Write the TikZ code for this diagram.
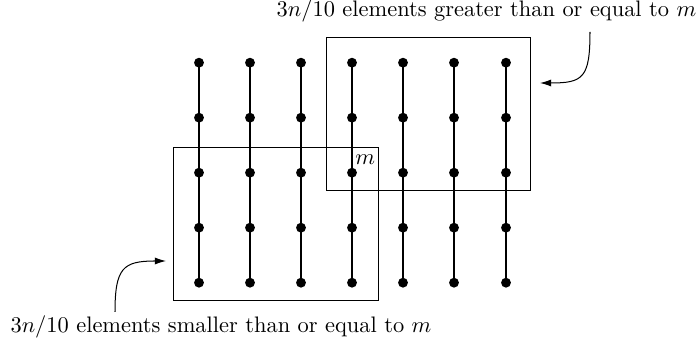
\documentclass[tikz,border=0pt]{standalone}
\usetikzlibrary{arrows.meta,fit}
\begin{document}
\begin{tikzpicture}[x=0.446pt,y=-0.446pt,
  dot/.style={circle,fill=black,inner sep=0pt,minimum size=4.4pt},
  colline/.style={line width=0.9pt},
  boxstyle/.style={draw,line width=0.5pt,inner sep=0pt},
  callout/.style={line width=0.45pt,-{Latex[length=5pt,width=3.2pt]}},
  lbl/.style={inner sep=0pt,anchor=base}]
\useasboundingbox (0,0) rectangle (699,345);
% dots
\foreach \c/\x in {1/199,2/250,3/301,4/352,5/403,6/454,7/506}{
  \foreach \r in {1,...,5}{
    \node[dot] (d\c-\r) at (\x,{62.7+55*(\r-1)}) {};
  }
  \draw[colline] (d\c-1.center) -- (d\c-5.center);
}
% boxes
\coordinate (lbtl) at (173.5,147.5);
\coordinate (lbbr) at (378.5,300.5);
\node[boxstyle,fit=(lbtl)(lbbr)] (lowbox) {};
\coordinate (hbtl) at (326.5,37.5);
\coordinate (hbbr) at (530.5,190.5);
\node[boxstyle,fit=(hbtl)(hbbr)] (highbox) {};
% m label
\node[inner sep=0pt,anchor=base east] (mlabel) at (375.5,165) {$m$};
% texts
\node[lbl] (gtext) at (486.5,16.7) {$3n/10$ elements greater than or equal to $m$};
\node[lbl] (stext) at (221,333) {$3n/10$ elements smaller than or equal to $m$};
% arrows
\coordinate (ga) at (590,32);
\coordinate (gb) at (540,83);
\draw[callout] (ga) .. controls (590,78) and (583,83) .. (gb);
\coordinate (sa) at (115,312);
\coordinate (sb) at (166,261);
\draw[callout] (sa) .. controls (115,268) and (123,261) .. (sb);
\end{tikzpicture}
\end{document}
